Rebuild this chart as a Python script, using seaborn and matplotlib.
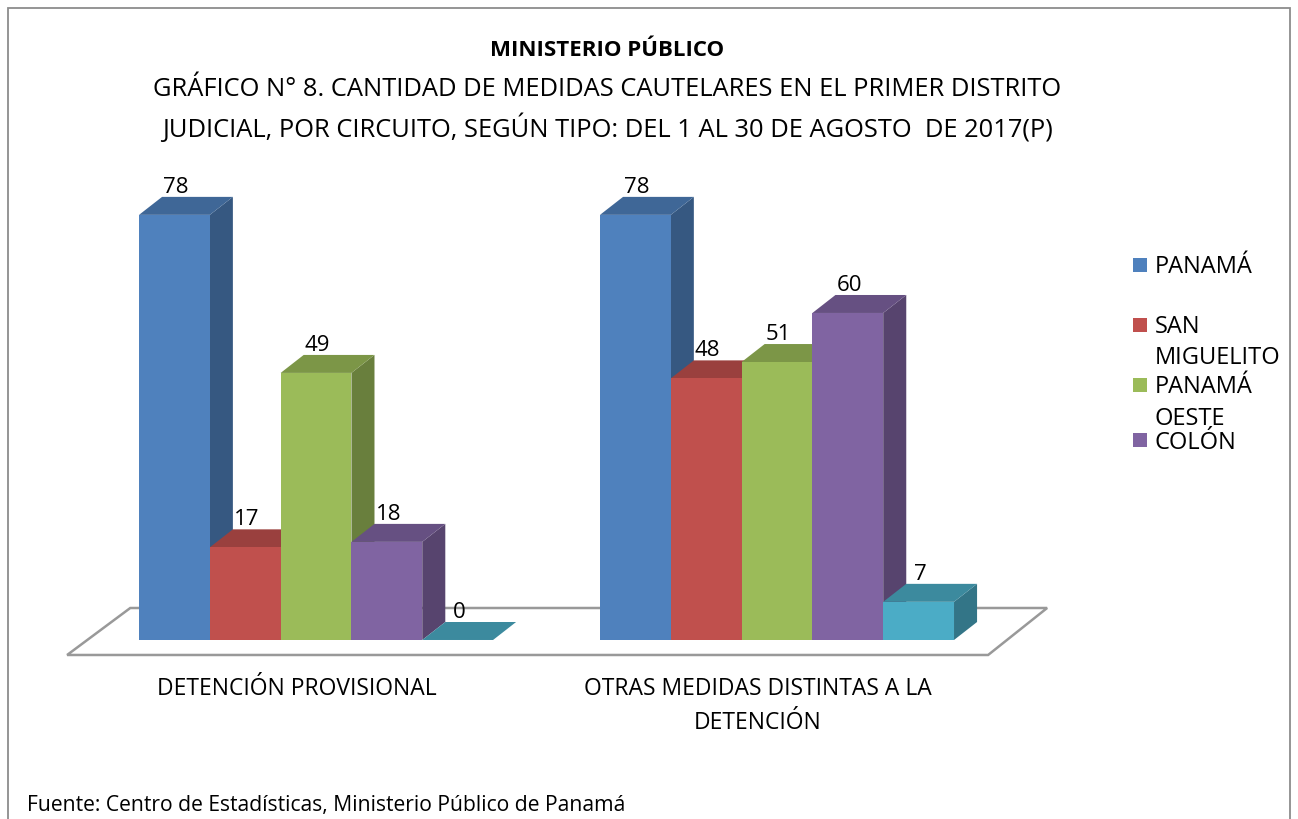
import pandas as pd
import matplotlib
matplotlib.use("Agg")
import matplotlib.pyplot as plt
import matplotlib.colors as mcolors
import seaborn as sns
from matplotlib.patches import Polygon, Rectangle
from matplotlib.transforms import ScaledTranslation

# -------------------------------
# Data
# -------------------------------
tipos = ["DETENCIÓN PROVISIONAL", "OTRAS MEDIDAS DISTINTAS A LA\nDETENCIÓN"]
circuitos = ["PANAMÁ", "SAN MIGUELITO", "PANAMÁ OESTE", "COLÓN", "GUNA YALA"]
detencion = [78, 17, 49, 18, 0]
otras = [78, 48, 51, 60, 7]
colores = ["#4F81BD", "#C0504D", "#9BBB59", "#8064A2", "#4BACC6"]
# the original legend only shows the first four circuits
leyenda = ["PANAMÁ", "SAN\nMIGUELITO", "PANAMÁ\nOESTE", "COLÓN"]

df = pd.DataFrame({
    "tipo": [tipos[0]] * len(circuitos) + [tipos[1]] * len(circuitos),
    "circuito": circuitos * 2,
    "cantidad": detencion + otras,
})

sns.set_theme(style="white")
plt.rcParams["font.family"] = ["Open Sans", "DejaVu Sans"]
plt.rcParams["text.color"] = "black"
plt.rcParams["xtick.color"] = "black"

fig = plt.figure(figsize=(12.98, 8.19), dpi=100)
ax = fig.add_axes([0.0233, 0.1853, 0.7955, 0.6189])

sns.barplot(data=df, x="tipo", y="cantidad", hue="circuito",
            order=tipos, hue_order=circuitos, palette=colores,
            saturation=1, width=0.768, errorbar=None, legend=False,
            linewidth=0, ax=ax)

ax.set_xlim(-0.62, 1.62)
ax.set_ylim(-5, 88)

# -------------------------------
# Fake 3D: side + top faces
# -------------------------------
dx, dy = 0.05, 3.3
bars = sorted(list(ax.patches), key=lambda p: p.get_x())
for i, p in enumerate(bars):
    x0, w, h = p.get_x(), p.get_width(), p.get_height()
    c = mcolors.to_rgb(p.get_facecolor())
    top = tuple(v * 0.8 for v in c)
    side = tuple(v * 0.68 for v in c)
    z = 3 + i * 0.1
    ax.add_patch(Polygon([(x0 + w, 0), (x0 + w + dx, dy), (x0 + w + dx, h + dy), (x0 + w, h)],
                         closed=True, fc=side, ec="none", zorder=z))
    ax.add_patch(Polygon([(x0, h), (x0 + w, h), (x0 + w + dx, h + dy), (x0 + dx, h + dy)],
                         closed=True, fc=top, ec="none", zorder=z + 0.03))
    p.set_zorder(z + 0.06)
    ax.text(x0 + w / 2 + 0.003, h + dy - 0.2, f"{h:.0f}", ha="center", va="bottom",
            fontsize=16, zorder=20)

# floor
ax.add_patch(Polygon([(-0.540, -2.75), (1.458, -2.75), (1.586, 5.87), (-0.403, 5.87)],
                     closed=True, fc="white", ec="#999999", lw=1.8, zorder=1))

# axes cleanup
sns.despine(ax=ax, left=True, bottom=True)
ax.set_xlabel("")
ax.set_ylabel("")
ax.set_yticks([])
ax.tick_params(axis="x", length=0, pad=7, labelsize=16.5)
for lbl in ax.get_xticklabels():
    lbl.set_linespacing(1.56)
    lbl.set_transform(lbl.get_transform() + ScaledTranslation(-0.19, 0, fig.dpi_scale_trans))

# -------------------------------
# Titles, legend, source
# -------------------------------
W, H = 1298, 819
fig.text(607 / W, 1 - 50 / H, "MINISTERIO PÚBLICO", ha="center", va="center",
         fontsize=16, fontweight="bold")
fig.text(607 / W, 1 - 90 / H,
         "GRÁFICO N° 8. CANTIDAD DE MEDIDAS CAUTELARES EN EL PRIMER DISTRITO",
         ha="center", va="center", fontsize=18.4)
fig.text(607 / W, 1 - 128 / H,
         "JUDICIAL, POR CIRCUITO, SEGÚN TIPO: DEL 1 AL 30 DE AGOSTO  DE 2017(P)",
         ha="center", va="center", fontsize=18.4)

leg_y = [265, 325, 385, 440]
step = 31
for i, lab in enumerate(leyenda):
    nl = lab.count("\n")
    fig.add_artist(Rectangle((1133 / W, 1 - (leg_y[i] + 7) / H), 14 / W, 14 / H,
                             transform=fig.transFigure, fc=colores[i], ec="none"))
    fig.text(1155 / W, 1 - (leg_y[i] + 8.5 + nl * step) / H, lab, ha="left", va="baseline",
             fontsize=17, linespacing=1.41)

fig.text(27 / W, 1 - 805 / H, "Fuente: Centro de Estadísticas, Ministerio Público de Panamá",
         ha="left", va="center", fontsize=15.2)

# outer frame
fig.add_artist(Rectangle((8 / W, -0.02), 1282 / W, 1.02 - 8 / H, transform=fig.transFigure,
                         fc="none", ec="#8c8c8c", lw=1.3))

fig.savefig("out.png", dpi=100)
